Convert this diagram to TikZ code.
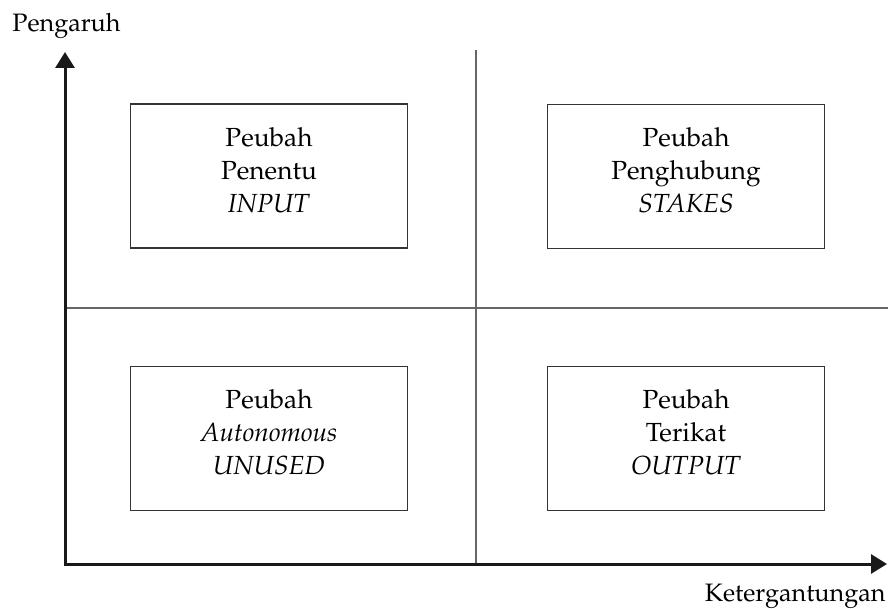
\documentclass[tikz,border=0pt]{standalone}
\usepackage[T1]{fontenc}
\usepackage{mathpazo}
\usepackage{xcolor}
\usepackage{tikz}
\usetikzlibrary{arrows.meta, calc}

\begin{document}
\begin{tikzpicture}[x = 0.5pt, y = -0.5pt]
\useasboundingbox (0, 0) rectangle (888, 609);

\begin{scope}[every node/.style={font=\fontsize{12.6}{16.5}\selectfont, inner sep=0pt}]
    % axes
    \coordinate (O) at (65, 564);
    \coordinate (Y_top) at (65, 52);
    \coordinate (X_end) at (887, 564);
    \node[anchor=base west] (Y_lab) at (12, 32) {Pengaruh};
    \node[anchor=base east] (X_lab) at (886, 601) {Ketergantungan};
    % dividers
    \coordinate (V_top) at (476, 50);
    \coordinate (V_bot) at (476, 564);
    \coordinate (H_left) at (65, 308);
    \coordinate (H_right) at (888, 308);
\end{scope}

\begin{scope}[
    every node/.style={font=\fontsize{13.1}{16.5}\selectfont, inner sep=0pt},
    quadbox/.style={draw=black!80, line width=0.6pt, minimum width=138.5pt, minimum height=72pt},
    quadtext/.style={align=center}
]
    % top left
    \node[quadbox] (Q_TL) at (269, 176) {};
    \node[quadtext] (T_TL) at ([yshift=3pt]Q_TL.center) {Peubah\\Penentu\\\textit{INPUT}};
    % top right
    \node[quadbox] (Q_TR) at (686, 176.5) {};
    \node[quadtext] (T_TR) at ([yshift=3pt]Q_TR.center) {Peubah\\Penghubung\\\textit{STAKES}};
    % bottom left
    \node[quadbox] (Q_BL) at (269, 438.5) {};
    \node[quadtext] (T_BL) at ([yshift=3pt]Q_BL.center) {Peubah\\\textit{Autonomous}\\\textit{UNUSED}};
    % bottom right
    \node[quadbox] (Q_BR) at (686, 438.5) {};
    \node[quadtext] (T_BR) at ([yshift=3pt]Q_BR.center) {Peubah\\Terikat\\\textit{OUTPUT}};
\end{scope}

\begin{scope}[
    every path/.style={draw=black!60, line width=0.8pt}
]
    \path (V_top) -- (V_bot);
    \path (H_left) -- (H_right);
\end{scope}

\draw [black!90, line width=1.5pt, line join=miter,
    {Triangle[length=8pt, width=9.5pt]}-{Triangle[length=8pt, width=9.5pt]}]
    (Y_top) -- (O) -- (X_end);
\end{tikzpicture}
\end{document}
